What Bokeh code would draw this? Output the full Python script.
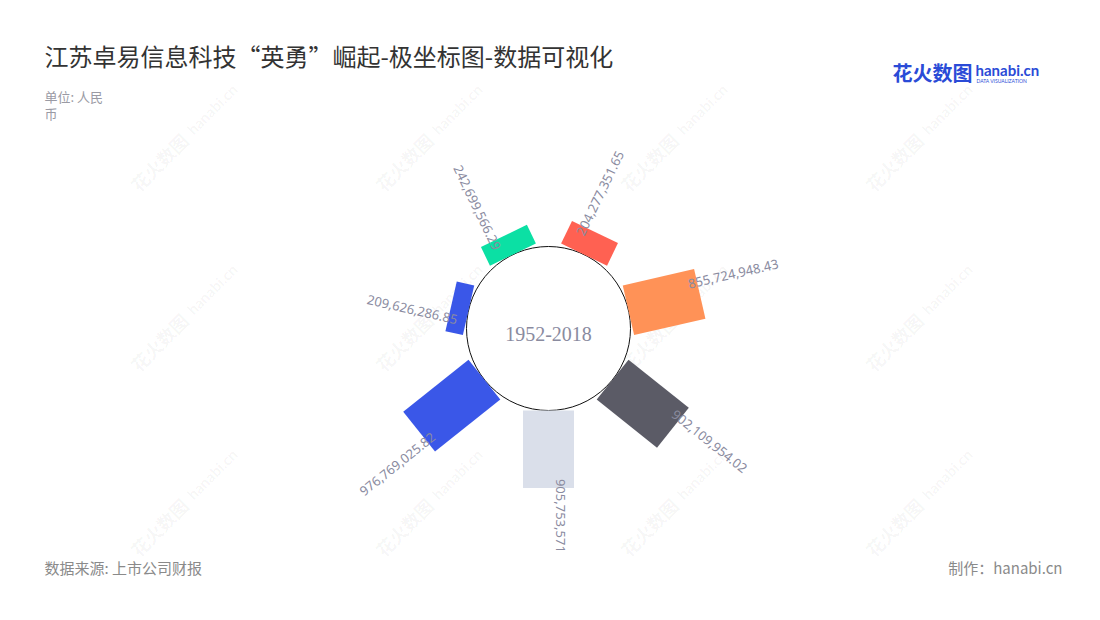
import math
from bokeh.plotting import figure
from bokeh.models import Range1d, Label
from bokeh.embed import file_html
from bokeh.resources import INLINE
from bokeh.core.properties import value

# ---- data ----
values = [294277351.65, 855724948.43, 902109954.02, 905753571.0,
          976769025.82, 209626286.85, 242699566.29]
value_labels = ["204,277,351.65", "855,724,948.43", "902,109,954.02", "905,753,571",
                "976,769,025.82", "209,626,286.85", "242,699,566.29"]
colors = ["#ff6152", "#ff9257", "#5b5b66", "#dadfea", "#3a57e8", "#3a57e8", "#0be0a4"]
center_text = "1952-2018"
title_text = "江苏卓易信息科技“英勇”崛起-极坐标图-数据可视化"
unit_lines = ["单位: 人民", "币"]
source_text = "数据来源: 上市公司财报"
credit_text = "制作：hanabi.cn"

W, H = 1084, 604


def X(px):
    return px


def Y(py):
    return H - py


p = figure(width=W, height=H, x_range=Range1d(0, W), y_range=Range1d(0, H),
           output_backend="svg", toolbar_location=None, min_border=0,
           x_axis_location=None, y_axis_location=None)
p.grid.visible = False
p.outline_line_color = None
p.background_fill_color = "white"
p.border_fill_color = "white"

# ---- watermarks ----
wm_x, wm_y = [], []
for py in (187, 367, 552):
    for px in (133, 378, 623, 868):
        wm_x.append(X(px))
        wm_y.append(Y(py))
p.text(x=wm_x, y=wm_y, text=["花火数图"] * len(wm_x), angle=math.pi / 4,
       text_font=value("Noto Sans CJK SC"), text_font_size="18px", text_font_style="bold",
       text_color="#000000", text_alpha=0.045, text_baseline="middle", text_align="left")
p.text(x=[x + 56 for x in wm_x], y=[y + 56 for y in wm_y], text=["hanabi.cn"] * len(wm_x),
       angle=math.pi / 4, text_font=value("Lato"), text_font_size="15px", text_font_style="bold",
       text_color="#000000", text_alpha=0.045, text_baseline="middle", text_align="left")

# ---- polar bars ----
cx, cy = X(548), Y(328)
R = 82
bar_w = 51
max_len = 83.5
vmax = max(values)
n = len(values)
step = 360.0 / n

bx, by, bl, ba = [], [], [], []
rx, ry, rt, rang = [], [], [], []
lx, ly, lt, lang = [], [], [], []
for i, v in enumerate(values):
    theta = (i + 0.5) * step          # compass angle, clockwise from north
    phi = math.radians(90 - theta)    # math angle
    L = v / vmax * max_len
    rc = R + L / 2
    bx.append(cx + rc * math.cos(phi))
    by.append(cy + rc * math.sin(phi))
    bl.append(L)
    ba.append(phi)
    ro = R + L - 9
    perp = 12
    px_ = cx + ro * math.cos(phi) - perp * math.sin(phi)
    py_ = cy + ro * math.sin(phi) + perp * math.cos(phi)
    if theta <= 180 + 1e-6:
        rx.append(px_); ry.append(py_); rt.append(value_labels[i]); rang.append(phi)
    else:
        lx.append(px_); ly.append(py_); lt.append(value_labels[i]); lang.append(phi + math.pi)

p.circle(x=[cx], y=[cy], radius=R, fill_color="white", line_color="#111111", line_width=1)
p.rect(x=bx, y=by, width=bl, height=bar_w, angle=ba, fill_color=colors, line_color=None)

lab_color = "#8a8b9f"
p.text(x=rx, y=ry, text=rt, angle=rang, text_align="left", text_baseline="middle",
       text_font=value("Noto Sans"), text_font_size="13px", text_color=lab_color)
p.text(x=lx, y=ly, text=lt, angle=lang, text_align="right", text_baseline="middle",
       text_font=value("Noto Sans"), text_font_size="13px", text_color=lab_color)

p.add_layout(Label(x=cx, y=cy - 5, text=center_text, text_align="center", text_baseline="middle",
                   text_font="Liberation Serif", text_font_size="20px", text_color="#8a8b9f"))

# ---- titles / footer ----
p.add_layout(Label(x=X(44), y=Y(55), text=title_text, text_baseline="middle",
                   text_font="Noto Sans CJK SC", text_font_size="24px", text_color="#333333"))
for k, line in enumerate(unit_lines):
    p.add_layout(Label(x=X(44), y=Y(96 + 17 * k), text=line, text_baseline="middle",
                       text_font="Noto Sans CJK SC", text_font_size="13px", text_color="#9a9aa4"))
p.add_layout(Label(x=X(44), y=Y(567), text=source_text, text_baseline="middle",
                   text_font="Noto Sans CJK SC", text_font_size="15px", text_color="#8a8a8a"))
p.add_layout(Label(x=X(1062), y=Y(567), text=credit_text, text_baseline="middle", text_align="right",
                   text_font="Noto Sans CJK SC", text_font_size="15px", text_color="#8a8a8a"))

# ---- logo ----
p.add_layout(Label(x=X(892), y=Y(72), text="花火数图", text_baseline="middle",
                   text_font="Noto Sans CJK SC", text_font_style="bold",
                   text_font_size="20px", text_color="#2a4bd7"))
p.add_layout(Label(x=X(975), y=Y(69), text="hanabi.cn", text_baseline="middle",
                   text_font="Lato", text_font_style="bold",
                   text_font_size="15px", text_color="#2a4bd7"))
p.add_layout(Label(x=X(976), y=Y(80), text="DATA VISUALIZATION", text_baseline="middle",
                   text_font="Lato", text_font_size="5px", text_color="#2a4bd7"))

open("out.html", "w").write(file_html(p, INLINE))
